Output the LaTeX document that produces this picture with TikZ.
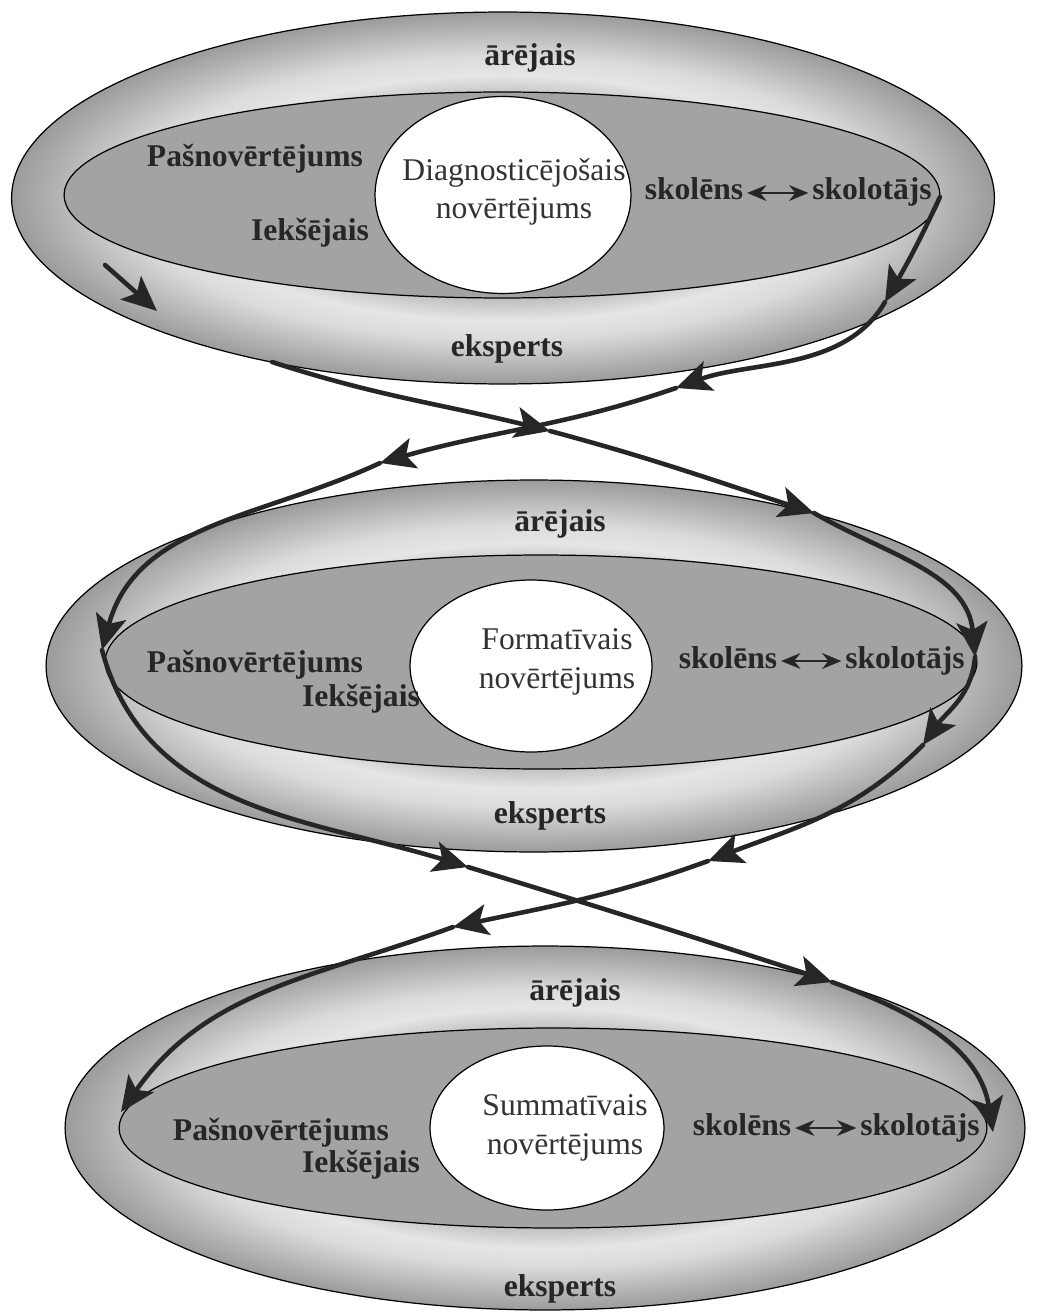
\documentclass[tikz,border=0pt]{standalone}
\usepackage{fontspec}
\setmainfont{Liberation Serif}
\usetikzlibrary{arrows.meta,shapes.geometric}

% light band in the outer ring
\pgfdeclareradialshading{ringshade}{\pgfpoint{0bp}{0bp}}{%
	color(0bp)=(gray!70); color(12bp)=(gray!66); color(16.5bp)=(gray!20);
	color(19bp)=(gray!28); color(23bp)=(gray!62); color(25bp)=(gray!78); color(50bp)=(gray!78)}

\begin{document}
\begin{tikzpicture}[x=0.02cm, y=0.02cm,
	outer/.style={ellipse, draw=black, line width=0.7pt, shade, shading=ringshade, inner sep=0pt},
	inner/.style={ellipse, draw=black, line width=0.7pt, fill=gray!72, inner sep=0pt},
	core/.style={ellipse, draw=black, line width=0.7pt, fill=white, inner sep=0pt},
	lbl/.style={font=\bfseries\fontsize{18}{21}\selectfont, text=black!85, inner sep=1pt, anchor=base},
	coretext/.style={font=\fontsize{18}{22}\selectfont, text=black!80, align=center, inner sep=0pt},
	flow/.style={draw=black!85, line width=2.6pt, line cap=round,
		-{Stealth[length=0.7cm, width=0.62cm, inset=0.16cm]}},
	duo/.style={draw=black!85, line width=1.3pt, {Stealth[length=11pt, width=9pt]}-{Stealth[length=11pt, width=9pt]}, shorten <=1pt, shorten >=1pt}]
	
	\useasboundingbox[fill=white] (0,0) rectangle (1036,-1314);
	
	% first block
	\node[outer, minimum width=19.66cm, minimum height=7.44cm] (outer1) at (503,-198) {};
	\node[inner, minimum width=17.52cm, minimum height=4.12cm] (inner1) at (502,-195) {};
	\node[core, minimum width=5.12cm, minimum height=3.94cm] (core1) at (503,-195) {};
	
	\node[lbl] (arejais1) at (530,-66) {ārējais};
	\node[lbl] (eksperts1) at (507,-357) {eksperts};
	\node[lbl] (pasn1) at (255,-167) {Pašnovērtējums};
	\node[lbl] (ieks1) at (310,-241) {Iekšējais};
	\node[coretext] (diag1) at (514,-192) {Diagnosticējošais\\novērtējums};
	\node[lbl] (sk1) at (694,-200) {skolēns};
	\node[lbl] (st1) at (872,-200) {skolotājs};
	\draw[duo] (sk1.east |- 0,-193) -- (st1.west |- 0,-193);
	
	% second block
	\node[outer, minimum width=19.52cm, minimum height=7.44cm] (outer2) at (534,-666) {};
	\node[inner, minimum width=17.44cm, minimum height=4.28cm] (inner2) at (541,-662) {};
	\node[core, minimum width=4.84cm, minimum height=3.44cm] (core2) at (531,-666) {};
	
	\node[lbl] (arejais2) at (560,-531) {ārējais};
	\node[lbl] (eksperts2) at (550,-823) {eksperts};
	\node[lbl] (pasn2) at (255,-672) {Pašnovērtējums};
	\node[lbl] (ieks2) at (361,-706) {Iekšējais};
	\node[coretext] (form2) at (557,-662) {Formatīvais\\novērtējums};
	\node[lbl] (sk2) at (728,-668) {skolēns};
	\node[lbl] (st2) at (905,-668) {skolotājs};
	\draw[duo] (sk2.east |- 0,-661) -- (st2.west |- 0,-661);
	
	% third block
	\node[outer, minimum width=19.2cm, minimum height=7.28cm] (outer3) at (545,-1128) {};
	\node[inner, minimum width=17.36cm, minimum height=4.0cm] (inner3) at (553,-1128) {};
	\node[core, minimum width=4.68cm, minimum height=3.28cm] (core3) at (547,-1128) {};
	
	\node[lbl] (arejais3) at (575,-1000) {ārējais};
	\node[lbl] (eksperts3) at (560,-1296) {eksperts};
	\node[lbl] (pasn3) at (281,-1140) {Pašnovērtējums};
	\node[lbl] (ieks3) at (361,-1172) {Iekšējais};
	\node[coretext] (summ3) at (565,-1128) {Summatīvais\\novērtējums};
	\node[lbl] (sk3) at (742,-1135) {skolēns};
	\node[lbl] (st3) at (920,-1135) {skolotājs};
	\draw[duo] (sk3.east |- 0,-1128) -- (st3.west |- 0,-1128);
	
	% way points of the two loops
	\coordinate (a0) at (940,-197);
	\coordinate (a1) at (885,-302);
	\coordinate (a2) at (676,-388);
	\coordinate (a3) at (380,-463);
	\coordinate (a4) at (102,-650);
	\coordinate (a5) at (468,-867);
	\coordinate (a6) at (832,-982);
	\coordinate (a7) at (993,-1132);
	
	\coordinate (s0) at (105,-265);
	\coordinate (s1) at (157,-311);
	\coordinate (b0) at (272,-362);
	\coordinate (b1) at (550,-431);
	\coordinate (b2) at (814,-513);
	\coordinate (b3) at (975,-657);
	\coordinate (b4) at (923,-745);
	\coordinate (b5) at (708,-861);
	\coordinate (b6) at (453,-927);
	\coordinate (b7) at (121,-1112);
	
	\draw[flow] (a0) to[out=245, in=60] (a1);
	\draw[flow] (a1) to[out=240, in=20, looseness=0.9] (a2);
	\draw[flow] (a2) to[out=199, in=16] (a3);
	\draw[flow] (a3) to[out=205, in=75] (a4);
	\draw[flow] (a4) to[out=285, in=163] (a5);
	\draw[flow] (a5) to[out=343, in=162] (a6);
	\draw[flow] (a6) to[out=340, in=99] (a7);
	
	\draw[flow] (s0) to (s1);
	\draw[flow] (b0) to[out=342, in=166] (b1);
	\draw[flow] (b1) to[out=345, in=162] (b2);
	\draw[flow] (b2) to[out=330, in=95] (b3);
	\draw[flow] (b3) to[out=265, in=55] (b4);
	\draw[flow] (b4) to[out=225, in=21] (b5);
	\draw[flow] (b5) to[out=200, in=12] (b6);
	\draw[flow] (b6) to[out=200, in=55] (b7);
	
\end{tikzpicture}
\end{document}
